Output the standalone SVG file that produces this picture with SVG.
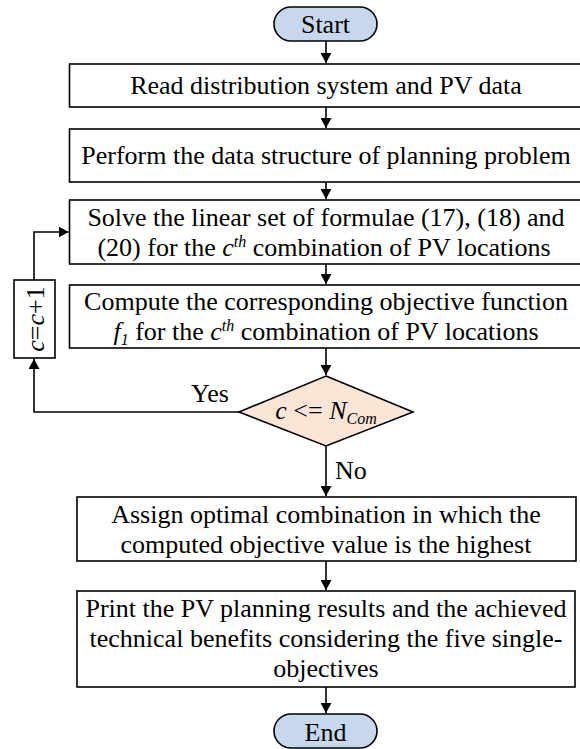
<svg xmlns="http://www.w3.org/2000/svg" width="580" height="749" viewBox="0 0 580 749">
<defs>
<style>
text{font-family:"Liberation Serif","Times New Roman",serif;font-size:26px;fill:#000}
.c{text-anchor:middle}
.box{fill:#fff;stroke:#000;stroke-width:1.6}
.term{fill:#c6d7ee;stroke:#000;stroke-width:1.6}
.dec{fill:#fbe5d6;stroke:#000;stroke-width:1.6}
.ln{fill:none;stroke:#000;stroke-width:1.6}
.i{font-style:italic}
.s{font-size:16px;font-style:italic}
</style>
<marker id="ah" markerUnits="userSpaceOnUse" markerWidth="10" markerHeight="11" viewBox="0 0 10 11" refX="10" refY="5.5" orient="auto">
<path d="M0,0 L10,5.5 L0,11 Z" fill="#000"/>
</marker>
</defs>
<rect width="580" height="749" fill="#fff"/>
<g id="connectors">
<path class="ln" d="M326,41 V63" marker-end="url(#ah)"/>
<path class="ln" d="M326,107 V128" marker-end="url(#ah)"/>
<path class="ln" d="M326,182 V199" marker-end="url(#ah)"/>
<path class="ln" d="M326,264 V284" marker-end="url(#ah)"/>
<path class="ln" d="M326,348 V375" marker-end="url(#ah)"/>
<path class="ln" d="M326,446 V496" marker-end="url(#ah)"/>
<path class="ln" d="M326,561 V590" marker-end="url(#ah)"/>
<path class="ln" d="M326,687 V713" marker-end="url(#ah)"/>
<path class="ln" d="M239,412 H34 V359" marker-end="url(#ah)"/>
<path class="ln" d="M34,280 V232 H68.5" marker-end="url(#ah)"/>
<text x="210" y="402" class="c">Yes</text>
<text x="335" y="479">No</text>
</g>
<g id="start">
<rect class="term" x="274" y="7" width="103" height="34" rx="17"/>
<text x="325.5" y="33" class="c">Start</text>
</g>
<g id="read">
<rect class="box" x="69.5" y="64" width="513" height="43"/>
<text x="326" y="94" class="c">Read distribution system and PV data</text>
</g>
<g id="perform">
<rect class="box" x="69.5" y="129" width="513" height="53"/>
<text x="326" y="164" class="c">Perform the data structure of planning problem</text>
</g>
<g id="solve">
<rect class="box" x="69.5" y="200" width="513" height="64"/>
<text x="326" y="226" class="c">Solve the linear set of formulae (17), (18) and</text>
<text x="324" y="256" class="c">(20) for the <tspan class="i">c</tspan><tspan class="s" dy="-9">th</tspan><tspan dy="9"> combination of PV locations</tspan></text>
</g>
<g id="compute">
<rect class="box" x="69.5" y="285" width="513" height="63"/>
<text x="326" y="310" class="c">Compute the corresponding objective function</text>
<text x="326" y="340" class="c"><tspan class="i">f</tspan><tspan class="s" dy="5">1</tspan><tspan dy="-5"> for the </tspan><tspan class="i">c</tspan><tspan class="s" dy="-9">th</tspan><tspan dy="9"> combination of PV locations</tspan></text>
</g>
<g id="increment">
<rect class="box" x="14" y="280" width="41" height="78"/>
<text transform="translate(43.5,319) rotate(-90)" class="c"><tspan class="i">c</tspan>=<tspan class="i">c</tspan>+1</text>
</g>
<g id="decision">
<polygon class="dec" points="326,376 413,412 326,446 239,412"/>
<text x="326" y="419" class="c"><tspan class="i">c</tspan> &lt;= <tspan class="i">N</tspan><tspan class="s" dy="5">Com</tspan></text>
</g>
<g id="assign">
<rect class="box" x="77" y="497" width="499" height="64"/>
<text x="326" y="523" class="c">Assign optimal combination in which the</text>
<text x="326" y="553" class="c">computed objective value is the highest</text>
</g>
<g id="print">
<rect class="box" x="77" y="591" width="498" height="96"/>
<text x="326" y="617" class="c">Print the PV planning results and the achieved</text>
<text x="326" y="647" class="c">technical benefits considering the five single-</text>
<text x="326" y="677" class="c">objectives</text>
</g>
<g id="end">
<rect class="term" x="274" y="714" width="103" height="34" rx="17"/>
<text x="325.5" y="741" class="c">End</text>
</g>
</svg>
